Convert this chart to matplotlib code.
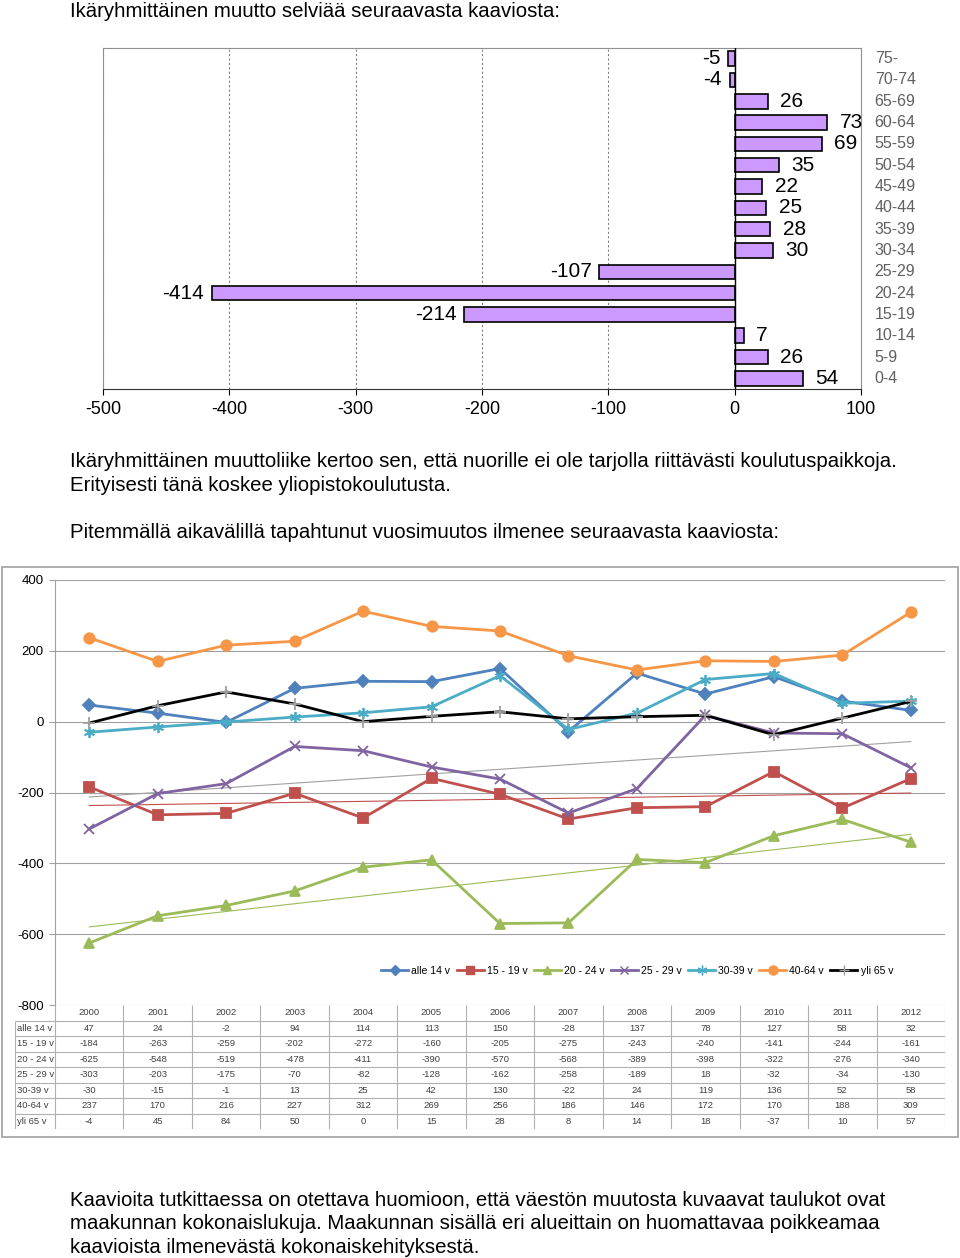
import numpy as np
import matplotlib.pyplot as plt
from matplotlib.patches import Rectangle
from matplotlib.lines import Line2D

# ---- data: age-group migration (top chart) ----
age_groups = ["75-", "70-74", "65-69", "60-64", "55-59", "50-54", "45-49", "40-44",
              "35-39", "30-34", "25-29", "20-24", "15-19", "10-14", "5-9", "0-4"]
age_values = [-5, -4, 26, 73, 69, 35, 22, 25, 28, 30, -107, -414, -214, 7, 26, 54]

# ---- data: yearly change (bottom chart) ----
years = [2000, 2001, 2002, 2003, 2004, 2005, 2006, 2007, 2008, 2009, 2010, 2011, 2012]
series_names = ["alle 14 v", "15 - 19 v", "20 - 24 v", "25 - 29 v", "30-39 v", "40-64 v", "yli 65 v"]
alle14 = [47, 24, -2, 94, 114, 113, 150, -28, 137, 78, 127, 58, 32]
v15_19 = [-184, -263, -259, -202, -272, -160, -205, -275, -243, -240, -141, -244, -161]
v20_24 = [-625, -548, -519, -478, -411, -390, -570, -568, -389, -398, -322, -276, -340]
v25_29 = [-303, -203, -175, -70, -82, -128, -162, -258, -189, 18, -32, -34, -130]
v30_39 = [-30, -15, -1, 13, 25, 42, 130, -22, 24, 119, 136, 52, 58]
v40_64 = [237, 170, 216, 227, 312, 269, 256, 186, 146, 172, 170, 188, 309]
yli65 = [-4, 45, 84, 50, 0, 15, 28, 8, 14, 18, -37, 10, 57]
series = [alle14, v15_19, v20_24, v25_29, v30_39, v40_64, yli65]

colors = ["#4F81BD", "#C0504D", "#9BBB59", "#8064A2", "#4BACC6", "#F79646", "#000000"]
markers = ["D", "s", "^", "x", (6, 2, 0), "o", "+"]
msizes = [6, 7, 7, 7, 8, 7.5, 8]

W, H = 960, 1258
plt.rcParams['font.family'] = ['Liberation Sans', 'DejaVu Sans']
plt.rcParams['axes.unicode_minus'] = False
fig = plt.figure(figsize=(W / 100, H / 100), dpi=100)


def box(x0, y0, x1, y1):
    # pixel box (top-left origin) -> figure fraction rect
    return [x0 / W, 1 - y1 / H, (x1 - x0) / W, (y1 - y0) / H]


def ftext(x, y, s, **kw):
    fig.text(x / W, 1 - y / H, s, **kw)


body = dict(fontsize=14.7, va='baseline', ha='left', color='black')
ftext(70, 17, "Ikäryhmittäinen muutto selviää seuraavasta kaaviosta:", **body)
ftext(70, 467, "Ikäryhmittäinen muuttoliike kertoo sen, että nuorille ei ole tarjolla riittävästi koulutuspaikkoja.", **body)
ftext(70, 491, "Erityisesti tänä koskee yliopistokoulutusta.", **body)
ftext(70, 538, "Pitemmällä aikavälillä tapahtunut vuosimuutos ilmenee seuraavasta kaaviosta:", **body)
ftext(70, 1205, "Kaavioita tutkittaessa on otettava huomioon, että väestön muutosta kuvaavat taulukot ovat", **body)
ftext(70, 1229, "maakunnan kokonaislukuja. Maakunnan sisällä eri alueittain on huomattavaa poikkeamaa", **body)
ftext(70, 1253, "kaavioista ilmenevästä kokonaiskehityksestä.", **body)

# ---------------- top bar chart ----------------
ax1 = fig.add_axes(box(103, 48, 861, 389))
ypos = np.arange(len(age_groups))
ax1.barh(ypos, age_values, height=0.68, color="#CC99FF", edgecolor="black", linewidth=1.2, zorder=3)
ax1.set_xlim(-500, 100)
ax1.set_ylim(len(age_groups) - 0.5, -0.5)
ax1.set_xticks(range(-500, 101, 100))
ax1.tick_params(axis='x', labelsize=13, length=4, pad=5)
ax1.set_yticks([])
ax1.grid(axis='x', linestyle=(0, (2, 2)), color='#808080', linewidth=0.8, zorder=0)
for s in ['left', 'top', 'right']:
    ax1.spines[s].set_color('#909090')
ax1.spines['bottom'].set_color('#303030')
ax1.axvline(0, color='black', linewidth=1, zorder=4)
for i, v in enumerate(age_values):
    if v >= 0:
        ax1.text(v + 10, i, str(v), ha='left', va='center', fontsize=15, zorder=5)
    else:
        ax1.text(v - 6, i, str(v), ha='right', va='center', fontsize=15, zorder=5)
    ax1.text(1.018, i, age_groups[i], transform=ax1.get_yaxis_transform(), ha='left',
             va='center', fontsize=11.5, color='#606060')

# ---------------- bottom line chart ----------------
fig.patches.append(Rectangle((2 / W, 1 - 1137 / H), 956 / W, 570 / H, transform=fig.transFigure,
                             fill=False, edgecolor='#A0A0A0', linewidth=1.2))
ax2 = fig.add_axes(box(55, 580, 945, 1005))
x = np.arange(len(years))
ax2.set_xlim(-0.5, len(years) - 0.5)
ax2.set_ylim(-800, 400)
ax2.set_yticks(range(-800, 401, 200))
ax2.set_xticks([])
ax2.tick_params(axis='y', labelsize=9.5, length=4, color='#A0A0A0', pad=4)
ax2.grid(axis='y', color='#A0A0A0', linewidth=0.8)
for s in ['top', 'right', 'bottom']:
    ax2.spines[s].set_visible(False)
ax2.spines['left'].set_color('#A0A0A0')

# linear trend lines for 15-19, 20-24 and 25-29
trend_cols = {1: "#C0504D", 2: "#9BBB59", 3: "#A0A0A0"}
for k, c in trend_cols.items():
    p = np.polyfit(x, series[k], 1)
    ax2.plot(x, np.polyval(p, x), color=c, linewidth=0.8, zorder=2)

handles = []
for k, vals in enumerate(series):
    mcol = "#A0A0A0" if k == 6 else colors[k]
    ax2.plot(x, vals, color=colors[k], linewidth=2, marker=markers[k], markersize=msizes[k],
             markerfacecolor=mcol, markeredgecolor=mcol, markeredgewidth=1.3, zorder=3)
    handles.append(Line2D([], [], color=colors[k], linewidth=2, marker=markers[k], markersize=msizes[k] - 1,
                          markerfacecolor=mcol, markeredgecolor=mcol))
ax2.legend(handles, series_names, loc='center', bbox_to_anchor=(0.654, 0.08), ncol=7, frameon=False,
           fontsize=7.5, handlelength=2.6, handletextpad=0.3, columnspacing=0.6)

# ---------------- data table ----------------
label_w = 40 / (890 / 13)
ax3 = fig.add_axes(box(15, 1005, 945, 1129))
ax3.set_xlim(-0.5 - label_w, len(years) - 0.5)
ax3.set_ylim(len(series) + 1, 0)
ax3.axis('off')
grid_c = '#B0B0B0'
ax3.vlines(np.arange(len(years) + 1) - 0.5, 0, len(series) + 1, color=grid_c, linewidth=0.8)
ax3.vlines(-0.5 - label_w, 1, len(series) + 1, color=grid_c, linewidth=0.8)
ax3.hlines(np.arange(1, len(series) + 2), -0.5 - label_w, len(years) - 0.5, color=grid_c, linewidth=0.8)
for j, yr in enumerate(years):
    ax3.text(j, 0.5, str(yr), ha='center', va='center', fontsize=6.8, color='#404040')
for r, (name, vals) in enumerate(zip(series_names, series)):
    ax3.text(-0.5 - label_w + 0.03, r + 1.5, name, ha='left', va='center', fontsize=6.8, color='#404040')
    for j, v in enumerate(vals):
        ax3.text(j, r + 1.5, str(v), ha='center', va='center', fontsize=6.8, color='#404040')

fig.savefig("out.png", dpi=100)
